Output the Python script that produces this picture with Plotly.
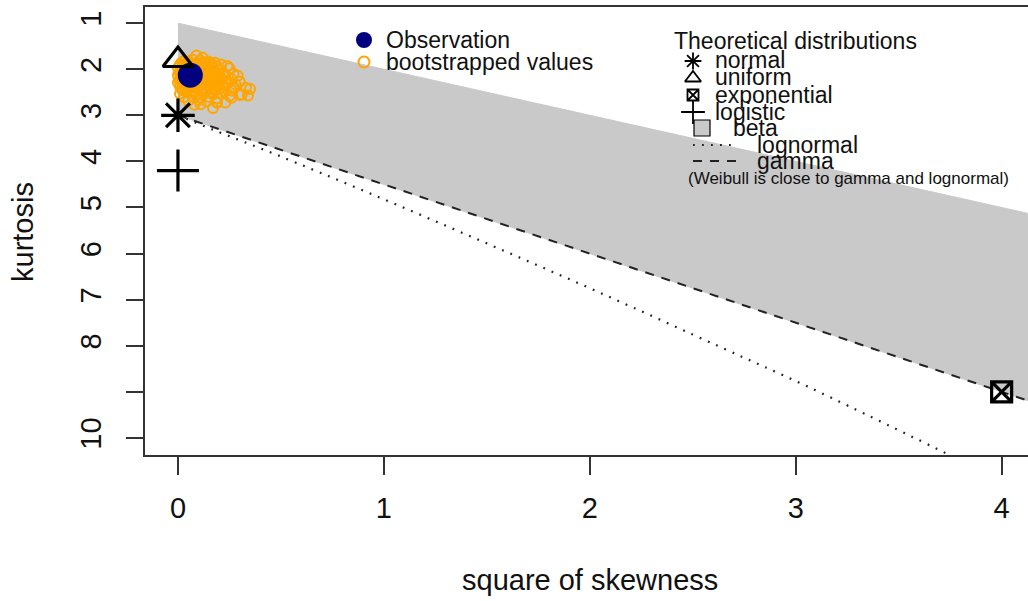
import plotly.graph_objects as go

# ---- data -------------------------------------------------------------
# observed sample (square of skewness, kurtosis)
obs_sq_skew = [0.06]
obs_kurt = [2.13]

# bootstrapped estimates
boot_sq_skew = [
    0.09, 0.12,
    0.03, 0.07, 0.11, 0.15, 0.18,
    0.01, 0.05, 0.08, 0.12, 0.16, 0.21, 0.24,
    0.00, 0.03, 0.06, 0.10, 0.13, 0.17, 0.20, 0.25,
    0.01, 0.04, 0.07, 0.11, 0.14, 0.18, 0.22, 0.27,
    0.00, 0.02, 0.05, 0.09, 0.12, 0.16, 0.19, 0.23, 0.29,
    0.01, 0.04, 0.07, 0.10, 0.14, 0.17, 0.21, 0.26, 0.30,
    0.00, 0.03, 0.06, 0.09, 0.13, 0.16, 0.20, 0.24, 0.28, 0.33,
    0.01, 0.05, 0.08, 0.11, 0.15, 0.19, 0.22, 0.27, 0.35,
    0.02, 0.04, 0.07, 0.12, 0.14, 0.18, 0.23, 0.26, 0.31,
    0.01, 0.06, 0.09, 0.13, 0.17, 0.21, 0.25, 0.30, 0.34,
    0.03, 0.07, 0.11, 0.15, 0.19, 0.26,
    0.05, 0.10, 0.14, 0.19, 0.23,
    0.08, 0.11, 0.19,
    0.17,
    # dense core
    0.02, 0.05, 0.09, 0.13, 0.16,
    0.01, 0.04, 0.08, 0.11, 0.15, 0.19,
    0.02, 0.06, 0.10, 0.13, 0.17, 0.20,
    0.01, 0.04, 0.08, 0.12, 0.15, 0.18, 0.22,
    0.02, 0.05, 0.09, 0.13, 0.17, 0.21,
    0.01, 0.04, 0.07, 0.11, 0.15, 0.19, 0.23,
    0.03, 0.06, 0.10, 0.14, 0.18, 0.22,
    0.02, 0.05, 0.09, 0.12, 0.16, 0.20,
    0.04, 0.08, 0.12, 0.16,
]
boot_kurt = [
    1.70, 1.75,
    1.82, 1.79, 1.81, 1.84, 1.86,
    1.89, 1.87, 1.90, 1.88, 1.91, 1.90, 1.93,
    1.97, 1.95, 1.98, 1.96, 1.99, 1.97, 2.00, 1.98,
    2.05, 2.03, 2.06, 2.04, 2.07, 2.05, 2.08, 2.10,
    2.13, 2.11, 2.14, 2.12, 2.15, 2.13, 2.16, 2.14, 2.14,
    2.21, 2.19, 2.22, 2.20, 2.23, 2.21, 2.24, 2.22, 2.27,
    2.29, 2.27, 2.30, 2.28, 2.31, 2.29, 2.32, 2.30, 2.33, 2.40,
    2.37, 2.35, 2.38, 2.36, 2.39, 2.37, 2.40, 2.38, 2.43,
    2.45, 2.43, 2.46, 2.44, 2.47, 2.45, 2.48, 2.46, 2.55,
    2.53, 2.51, 2.54, 2.52, 2.55, 2.53, 2.58, 2.56, 2.57,
    2.61, 2.59, 2.62, 2.60, 2.63, 2.62,
    2.69, 2.67, 2.70, 2.71, 2.72,
    2.77, 2.76, 2.73,
    2.84,
    # dense core
    1.85, 1.84, 1.86, 1.85, 1.87,
    1.93, 1.92, 1.94, 1.93, 1.95, 1.94,
    2.01, 2.00, 2.02, 2.01, 2.03, 2.02,
    2.09, 2.08, 2.10, 2.09, 2.11, 2.10, 2.12,
    2.17, 2.18, 2.16, 2.18, 2.17, 2.19,
    2.25, 2.24, 2.26, 2.25, 2.27, 2.26, 2.28,
    2.33, 2.32, 2.34, 2.33, 2.35, 2.34,
    2.41, 2.40, 2.42, 2.41, 2.43, 2.42,
    2.49, 2.50, 2.48, 2.50,
]

# theoretical distributions (single points)
theo_names = ["normal", "uniform", "exponential", "logistic"]
theo_sq_skew = [0.0, 0.0, 4.0, 0.0]
theo_kurt = [3.0, 1.8, 9.0, 4.2]

# beta region: kurtosis bounds along square of skewness
beta_sq_skew = [0.0, 4.3]
beta_kurt_low = [1.0, 5.3]
beta_kurt_high = [3.0, 9.45]

# gamma line
gamma_sq_skew = [0.0, 4.3]
gamma_kurt = [3.0, 9.45]

# lognormal curve
lnorm_sq_skew = [0.0, 0.18, 0.47, 0.93, 1.49, 2.05, 2.64, 3.06, 3.77]
lnorm_kurt = [3.0, 3.33, 3.84, 4.69, 5.76, 6.85, 8.04, 8.89, 10.42]

x_ticks = [0, 1, 2, 3, 4]
y_ticks = [1, 2, 3, 4, 5, 6, 7, 8, 9, 10]
y_tick_text = ["1", "2", "3", "4", "5", "6", "7", "8", "", "10"]

# ---- layout geometry --------------------------------------------------
W, H = 1028, 601
L, R, T, B = 145, 0, 7, 146
X_RANGE = [-0.16, 4.128]
Y_RANGE = [10.37, 0.65]
PW, PH = W - L - R, H - T - B

FONT = "Liberation Sans, Arial, Helvetica, sans-serif"
INK = "#111111"
GREY = "#c9c9c9"
ORANGE = "#FFA500"
NAVY = "#000080"
DOT = "1.8px,7.2px"
DASH = "9px,8px"


def dx(px):
    return X_RANGE[0] + (px - L) / PW * (X_RANGE[1] - X_RANGE[0])


def dy(py):
    return Y_RANGE[1] + (py - T) / PH * (Y_RANGE[0] - Y_RANGE[1])


def paper_x(px):
    return (px - L) / PW


def paper_y(py):
    return (H - B - py) / PH


fig = go.Figure()

# beta region polygon
fig.add_trace(go.Scatter(
    x=beta_sq_skew + beta_sq_skew[::-1],
    y=beta_kurt_low + beta_kurt_high[::-1],
    fill="toself", fillcolor=GREY, mode="lines",
    line=dict(color=GREY, width=1), hoverinfo="skip", showlegend=False))

# lognormal (dotted) and gamma (dashed)
fig.add_trace(go.Scatter(
    x=lnorm_sq_skew, y=lnorm_kurt, mode="lines",
    line=dict(color="#222222", width=2.2, dash=DOT, shape="spline"),
    showlegend=False))
fig.add_trace(go.Scatter(
    x=gamma_sq_skew, y=gamma_kurt, mode="lines",
    line=dict(color="#222222", width=2, dash=DASH),
    showlegend=False))

# bootstrapped values
fig.add_trace(go.Scatter(
    x=boot_sq_skew, y=boot_kurt, mode="markers",
    marker=dict(symbol="circle-open", size=10, color=ORANGE,
                line=dict(width=2, color=ORANGE)),
    showlegend=False))

# observation
fig.add_trace(go.Scatter(
    x=obs_sq_skew, y=obs_kurt, mode="markers",
    marker=dict(symbol="circle", size=25, color=NAVY),
    showlegend=False))

# theoretical distributions
theo_symbols = ["asterisk-open", "triangle-up-open", "square-x-open", "cross-thin-open"]
theo_sizes = [28, 26, 20, 30]
for i in range(len(theo_names)):
    fig.add_trace(go.Scatter(
        x=[theo_sq_skew[i]], y=[theo_kurt[i]], mode="markers",
        marker=dict(symbol=theo_symbols[i], size=theo_sizes[i], color="black",
                    line=dict(width=3.2, color="black")),
        name=theo_names[i], showlegend=False))

# ---- hand-placed legends ----------------------------------------------
fig.add_trace(go.Scatter(
    x=[dx(364)], y=[dy(40)], mode="markers",
    marker=dict(symbol="circle", size=16, color=NAVY), showlegend=False))
fig.add_trace(go.Scatter(
    x=[dx(364)], y=[dy(62)], mode="markers",
    marker=dict(symbol="circle-open", size=11, color=ORANGE,
                line=dict(width=2, color=ORANGE)), showlegend=False))

leg_syms = ["asterisk-open", "triangle-up-open", "square-x-open", "cross-thin-open"]
leg_sizes = [14, 14, 11, 17]
leg_y = [61, 78, 95, 112]
for s, sz, yy in zip(leg_syms, leg_sizes, leg_y):
    fig.add_trace(go.Scatter(
        x=[dx(693)], y=[dy(yy)], mode="markers",
        marker=dict(symbol=s, size=sz, color="black",
                    line=dict(width=1.8, color="black")), showlegend=False))
fig.add_trace(go.Scatter(
    x=[dx(702)], y=[dy(128)], mode="markers",
    marker=dict(symbol="square", size=16, color=GREY,
                line=dict(width=1.2, color="black")), showlegend=False))
fig.add_trace(go.Scatter(
    x=[dx(693), dx(737)], y=[dy(145), dy(145)], mode="lines",
    line=dict(color="#222222", width=2.2, dash=DOT), showlegend=False))
fig.add_trace(go.Scatter(
    x=[dx(693), dx(737)], y=[dy(161), dy(161)], mode="lines",
    line=dict(color="#222222", width=2, dash=DASH), showlegend=False))

annotations = []


def label(text, px, py, size=23, xanchor="left", angle=0):
    annotations.append(dict(
        text=text, x=paper_x(px), y=paper_y(py), xref="paper", yref="paper",
        xanchor=xanchor, yanchor="middle", showarrow=False, textangle=angle,
        font=dict(family=FONT, size=size, color=INK)))


label("Observation", 384, 40)
label("bootstrapped values", 384, 62)
label("Theoretical distributions", 672, 41)
label("normal", 713, 60)
label("uniform", 713, 77)
label("exponential", 713, 95)
label("logistic", 713, 112)
label("beta", 731, 128)
label("lognormal", 755, 145)
label("gamma", 755, 161)
label("(Weibull is close to gamma and lognormal)", 686, 178, size=17)
label("square of skewness", 590, 580, size=29, xanchor="center")
label("kurtosis", 23, 232, size=29, xanchor="center", angle=-90)

fig.update_layout(
    width=W, height=H,
    margin=dict(l=L, r=R, t=T, b=B, pad=0),
    paper_bgcolor="white", plot_bgcolor="white",
    font=dict(family=FONT, size=29, color=INK),
    annotations=annotations,
    xaxis=dict(
        range=X_RANGE, tickvals=x_ticks, ticktext=[str(v) for v in x_ticks],
        ticks="outside", ticklen=18, tickwidth=1.5, tickcolor="#333333",
        showline=True, mirror=True, linecolor="#333333", linewidth=1.5,
        showgrid=False, zeroline=False, ticklabelstandoff=8,
        tickfont=dict(family=FONT, size=29, color=INK)),
    yaxis=dict(
        range=Y_RANGE, tickvals=y_ticks, ticktext=y_tick_text, tickangle=-90,
        ticks="outside", ticklen=17, tickwidth=1.5, tickcolor="#333333",
        showline=True, mirror=False, linecolor="#333333", linewidth=1.5,
        showgrid=False, zeroline=False, ticklabelstandoff=14,
        tickfont=dict(family=FONT, size=29, color=INK)),
)

fig.write_html("out.html")
